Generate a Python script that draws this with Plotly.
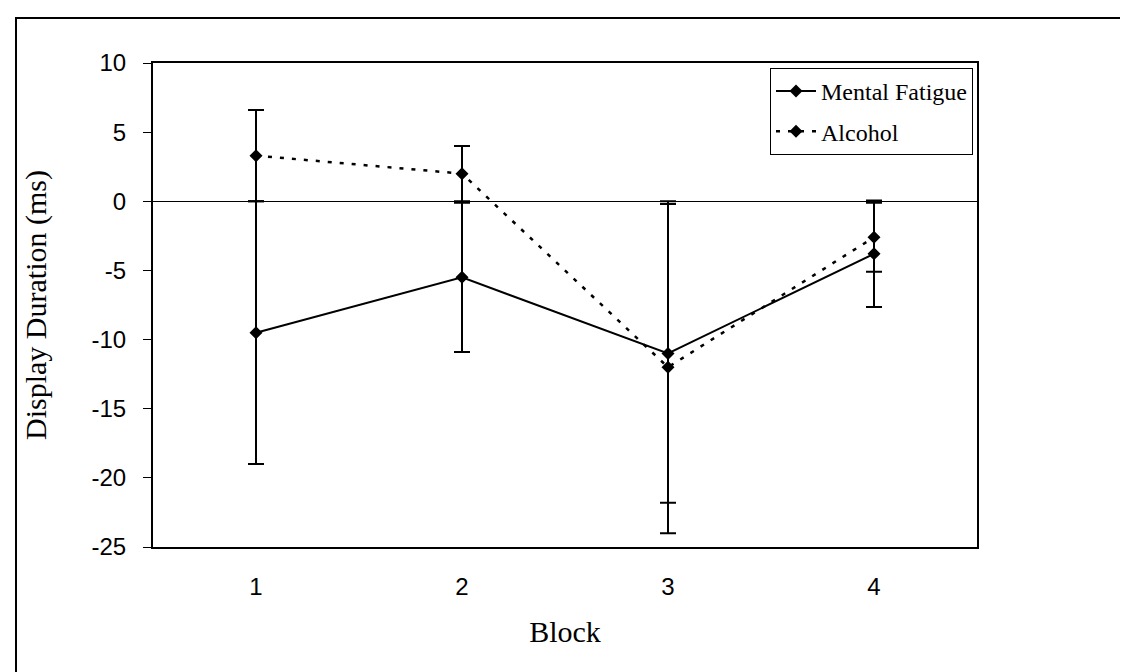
import plotly.graph_objects as go

blocks = [1, 2, 3, 4]
block_labels = ["1", "2", "3", "4"]
fatigue_mean = [-9.5, -5.5, -11.0, -3.8]
fatigue_err = [9.5, 5.4, 10.8, 3.85]
alcohol_mean = [3.3, 2.0, -12.0, -2.6]
alcohol_err = [3.3, 2.0, 12.0, 2.5]
y_ticks = [10, 5, 0, -5, -10, -15, -20, -25]

W, H = 1128, 672
L, R, T, B = 145, 969, 55, 539

fig = go.Figure()
fig.add_trace(go.Scatter(
    x=blocks, y=fatigue_mean, name="Mental Fatigue", mode="lines+markers",
    legendgroup="a",
    line=dict(color="black", width=2),
    marker=dict(symbol="diamond", size=10, color="black"),
    error_y=dict(type="data", array=fatigue_err, visible=True, color="black", thickness=2, width=8),
))
fig.add_trace(go.Scatter(
    x=blocks, y=alcohol_mean, name="Alcohol", mode="lines+markers",
    legendgroup="b",
    line=dict(color="black", width=2.5, dash="4px,8px"),
    marker=dict(symbol="diamond", size=10, color="black"),
    error_y=dict(type="data", array=alcohol_err, visible=True, color="black", thickness=2, width=8),
))

def px_x(p):
    return (p - L) / (R - L)

def px_y(p):
    return (B - p) / (B - T)

fig.update_layout(
    width=W, height=H,
    margin=dict(l=L, r=W - R, t=T, b=H - B, autoexpand=False),
    paper_bgcolor="white", plot_bgcolor="white",
    showlegend=True,
    legend=dict(
        x=px_x(762), y=px_y(60), xanchor="left", yanchor="top",
        bordercolor="black", borderwidth=1, bgcolor="white",
        font=dict(family="Liberation Serif", size=24, color="black"),
        itemwidth=40, tracegroupgap=6,
    ),
    xaxis=dict(
        range=[0.5, 4.5], tickvals=blocks, ticktext=block_labels,
        showgrid=False, zeroline=False, showline=True, linecolor="black", linewidth=2,
        mirror=True, ticks="", ticklabelstandoff=17,
        tickfont=dict(family="Liberation Sans", size=24, color="black"),
        title=dict(text="Block", font=dict(family="Liberation Serif", size=30, color="black"), standoff=22),
    ),
    yaxis=dict(
        range=[-25, 10], tickvals=y_ticks, ticktext=[str(v) for v in y_ticks],
        showgrid=False, zeroline=True, zerolinecolor="black", zerolinewidth=1,
        showline=True, linecolor="black", linewidth=2, mirror=True,
        ticks="outside", ticklen=8, tickwidth=1, tickcolor="black", ticklabelstandoff=12,
        tickfont=dict(family="Liberation Sans", size=24, color="black"),
        title=dict(text="Display Duration (ms)", font=dict(family="Liberation Serif", size=30, color="black"), standoff=36),
    ),
    shapes=[dict(
        type="rect", xref="paper", yref="paper",
        x0=px_x(8), x1=px_x(1140), y0=px_y(690), y1=px_y(10),
        line=dict(color="black", width=2), fillcolor="rgba(0,0,0,0)", layer="below",
    )],
)

fig.write_html("out.html")
